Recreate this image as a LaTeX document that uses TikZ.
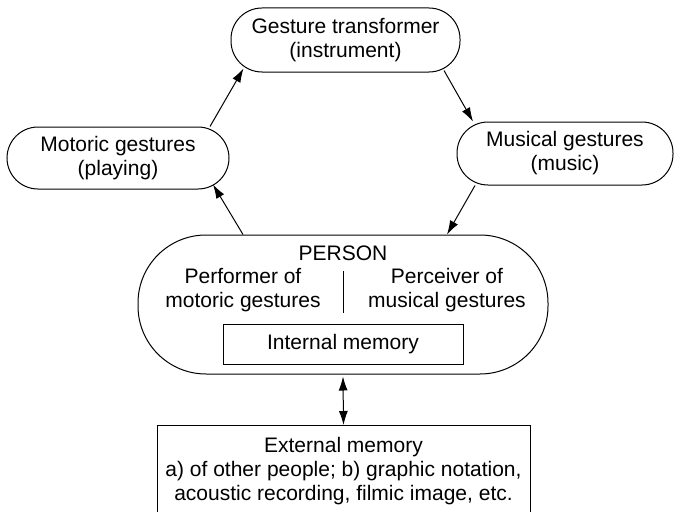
\documentclass[tikz,border=0pt]{standalone}
\usepackage{fontspec}
\setmainfont{Liberation Sans}
\usetikzlibrary{arrows.meta}
\begin{document}
\begin{tikzpicture}[x=1pt,y=-1pt,
  every node/.style={font=\fontsize{21}{24}\selectfont, align=center, inner sep=0pt},
  pill/.style={draw, line width=1pt, rounded corners=31pt, minimum height=64pt},
  plainbox/.style={draw, line width=1pt},
  tip/.tip={Latex[length=14pt,width=9pt]},
  conn/.style={line width=1pt, -tip},
  bothways/.style={line width=1pt, tip-tip}]
\useasboundingbox (0,0) rectangle (674,511);

% outer ring of gesture stages
\node[pill, minimum width=229pt] (tr) at (345.5,40) {Gesture transformer\\(instrument)};
\node[pill, minimum width=222pt, minimum height=62pt] (mot) at (118,158) {Motoric gestures\\(playing)};
\node[pill, minimum width=216pt, minimum height=63pt] (mus) at (565,153.5) {Musical gestures\\(music)};

% the person in the middle
\node[pill, rounded corners=68pt, minimum width=410pt, minimum height=139pt] (person) at (343,304.5) {};
\node (ptitle) at (343,253) {PERSON};
\node (perf) at (243,290) {Performer of\\motoric gestures};
\node (perc) at (447,290) {Perceiver of\\musical gestures};
\coordinate (divtop) at (343,271);
\coordinate (divbot) at (343,313);
\draw[line width=1pt] (divtop) -- (divbot);
\node[plainbox, minimum width=240pt, minimum height=40pt] (intmem) at (343,344) {Internal memory};

% external memory, running off the lower edge
\node[plainbox, minimum width=373pt, minimum height=92pt, anchor=north] (extmem) at (343.5,425)
  {External memory\\a) of other people; b) graphic notation,\\acoustic recording, filmic image, etc.};

% connectors
\draw[conn] ([xshift=-100pt]person.north) -- ([xshift=95pt,yshift=5pt]mot.south);
\draw[conn] ([xshift=92pt]mot.north) -- ([xshift=-102pt,yshift=4pt]tr.south);
\draw[conn] ([xshift=98.5pt,yshift=2pt]tr.south) -- ([xshift=-92pt]mus.north);
\draw[conn] ([xshift=-90pt]mus.south) -- ([xshift=104pt]person.north);
\draw[bothways] ([yshift=-2pt]person.south) -- (extmem.north);
\end{tikzpicture}
\end{document}
